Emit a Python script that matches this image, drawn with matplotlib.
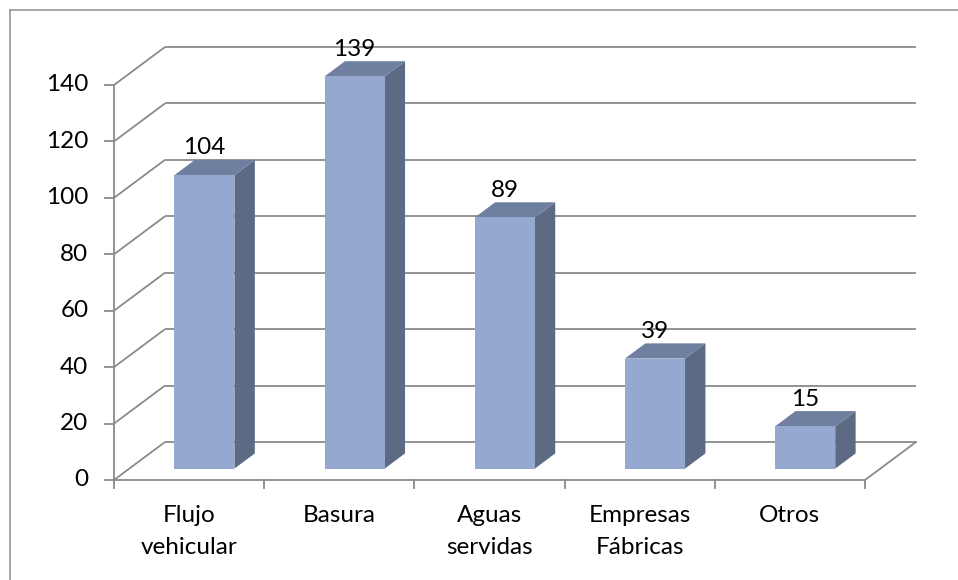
import matplotlib
matplotlib.use("Agg")
import matplotlib.pyplot as plt
from matplotlib.patches import Polygon
from matplotlib.lines import Line2D

categories = ["Flujo\nvehicular", "Basura", "Aguas\nservidas", "Empresas\nFábricas", "Otros"]
values = [104, 139, 89, 39, 15]
y_ticks = [0, 20, 40, 60, 80, 100, 120, 140]

plt.rcParams['font.family'] = ['Lato', 'DejaVu Sans']

W, H = 958, 580
fig = plt.figure(figsize=(W / 100, H / 100), dpi=100)
ax = fig.add_axes([0, 0, 1, 1])
ax.set_axis_off()

# pixel mapping of the front plane
x0_px, px_per_cat = 114, 150.2
y0_px, px_per_unit = 480, 56.43 / 20
ax.set_xlim(-x0_px / px_per_cat, (W - x0_px) / px_per_cat)
ax.set_ylim((y0_px - H) / px_per_unit, y0_px / px_per_unit)

DX = 51 / px_per_cat      # depth offset in category units
DY = 38 / px_per_unit     # depth offset in value units
n = len(categories)
grid_c = "#8A8A8A"
lw = 1.3
fs = 17.5

def P(x, v, d):
    return (x + d * DX, v + d * DY)

# back wall gridlines and left-wall diagonals
for t in y_ticks:
    (xa, ya), (xb, yb) = P(0, t, 0), P(0, t, 1)
    ax.plot([xa, xb], [ya, yb], color=grid_c, lw=lw, solid_capstyle='butt', zorder=1)
    (xc, yc) = P(n, t, 1)
    ax.plot([xb, xc], [yb, yc], color=grid_c, lw=lw, solid_capstyle='butt', zorder=1)
    # tick mark on the left
    ax.plot([-0.06, 0], [t, t], color=grid_c, lw=lw, zorder=1)
    ax.text(-0.17, t, str(t), ha='right', va='center', fontsize=fs, color='black')

# vertical axis
ax.plot([0, 0], [0, y_ticks[-1]], color=grid_c, lw=lw, zorder=1)
# floor front edge and right edge
ax.plot([0, n], [0, 0], color=grid_c, lw=lw, zorder=1)
(xr, yr) = P(n, 0, 1)
ax.plot([n, xr], [0, yr], color=grid_c, lw=lw, zorder=1)
# category ticks
for i in range(n + 1):
    ax.plot([i, i], [0, -8 / px_per_unit], color=grid_c, lw=lw, zorder=1)

front_c = "#95A9D0"
top_c = "#6F7FA0"
side_c = "#5D6A84"
d0, d1 = 0.3, 0.7
bw0, bw1 = 0.3, 0.7
for i, (cat, v) in enumerate(zip(categories, values)):
    xl, xr_ = i + bw0, i + bw1
    front = [P(xl, 0, d0), P(xr_, 0, d0), P(xr_, v, d0), P(xl, v, d0)]
    side = [P(xr_, 0, d0), P(xr_, 0, d1), P(xr_, v, d1), P(xr_, v, d0)]
    top = [P(xl, v, d0), P(xr_, v, d0), P(xr_, v, d1), P(xl, v, d1)]
    ax.add_patch(Polygon(side, closed=True, facecolor=side_c, edgecolor='none', zorder=3))
    ax.add_patch(Polygon(top, closed=True, facecolor=top_c, edgecolor='none', zorder=3))
    ax.add_patch(Polygon(front, closed=True, facecolor=front_c, edgecolor='none', zorder=4))
    lx, ly = P(i + 0.5, v, d0)
    ax.text(lx, v + d1 * DY + 12 / px_per_unit, str(v), ha='center', va='center',
            fontsize=fs, color='black', zorder=5)
    ax.text(i + 0.5, -25 / px_per_unit, cat, ha='center', va='top', fontsize=fs,
            linespacing=1.65, color='black')

# outer frame (left and top edges visible)
fig.add_artist(Line2D([10 / W, 10 / W], [0, 1 - 10 / H], transform=fig.transFigure,
                      color="#8E8E8E", lw=1.1))
fig.add_artist(Line2D([10 / W, 1], [1 - 10 / H, 1 - 10 / H], transform=fig.transFigure,
                      color="#8E8E8E", lw=1.1))

fig.savefig("out.png", dpi=100, facecolor='white')
